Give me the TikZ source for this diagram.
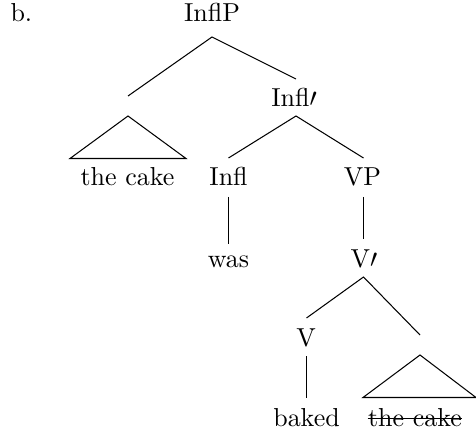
\documentclass[tikz,border=0pt]{standalone}
\begin{document}
\begin{tikzpicture}[x=0.385pt,y=-0.385pt,
  lbl/.style={anchor=base,inner sep=0pt,font=\fontsize{10}{12}\selectfont},
  branch/.style={line width=0.4pt}]
\useasboundingbox (0,0) rectangle (476,431);
% labels
\node[lbl,anchor=base west] (b) at (10,22) {b.};
\node[lbl] (inflp) at (212,22) {InflP};
\node[lbl] (inflbar) at (294,107) {Infl$\prime$};
\node[lbl] (cake1) at (127.5,186) {the cake};
\node[lbl] (infl) at (228.5,186) {Infl};
\node[lbl] (vp) at (362.5,186) {VP};
\node[lbl] (was) at (228.5,267) {was};
\node[lbl] (vbar) at (364,267) {V$\prime$};
\node[lbl] (v) at (306,346) {V};
\node[lbl] (baked) at (306.5,426) {baked};
\node[lbl] (cake2) at (415,426) {the cake};
% branch points
\coordinate (inflp-s) at (212,37);
\coordinate (spec) at (128,96);
\coordinate (inflbar-n) at (296,79);
\coordinate (tri1-top) at (128,116);
\coordinate (tri1-l) at (70,158.5);
\coordinate (tri1-r) at (186,158.5);
\coordinate (inflbar-s) at (296,116);
\coordinate (infl-n) at (228.5,158);
\coordinate (vp-n) at (363.5,158);
\coordinate (infl-s) at (228.5,197);
\coordinate (was-n) at (228.5,244);
\coordinate (vp-s) at (363.5,197);
\coordinate (vbar-n) at (363.5,239);
\coordinate (vbar-s) at (363.5,277);
\coordinate (v-n) at (306.5,318);
\coordinate (comp) at (420,335);
\coordinate (v-s) at (306.5,356);
\coordinate (baked-n) at (306.5,398);
\coordinate (tri2-top) at (420,355);
\coordinate (tri2-l) at (363,397.5);
\coordinate (tri2-r) at (476,397.5);
% branches
\draw[branch] (spec) -- (inflp-s) -- (inflbar-n);
\draw[branch] (tri1-l) -- (tri1-top) -- (tri1-r) -- cycle;
\draw[branch] (infl-n) -- (inflbar-s) -- (vp-n);
\draw[branch] (infl-s) -- (was-n);
\draw[branch] (vp-s) -- (vbar-n);
\draw[branch] (v-n) -- (vbar-s) -- (comp);
\draw[branch] (v-s) -- (baked-n);
\draw[branch] (tri2-l) -- (tri2-top) -- (tri2-r) -- cycle;
% strike-through
\draw[branch] ([yshift=2.9pt]cake2.base west) -- ([yshift=2.9pt]cake2.base east);
\end{tikzpicture}
\end{document}
